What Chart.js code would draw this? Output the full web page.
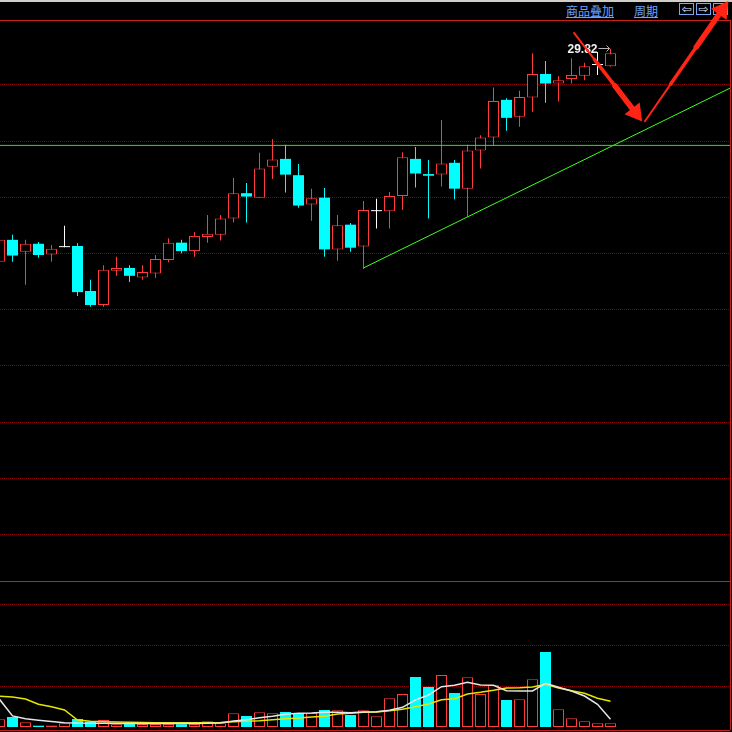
<!DOCTYPE html>
<html>
<head>
<meta charset="utf-8">
<script src="https://cdn.jsdelivr.net/npm/chart.js@4.4.1/dist/chart.umd.min.js"></script>
<style>
  html, body { margin: 0; padding: 0; background: #000; }
  #wrap { position: relative; width: 732px; height: 732px; overflow: hidden; background: #000; }
  #kline { position: absolute; left: 0; top: 0; z-index: 2; }
  #topline { position: absolute; left: 0; top: 0; width: 732px; height: 2px; background: #d0cec8; }
  .menu { position: absolute; top: 4px; font: 12px/13px "Noto Sans CJK SC", sans-serif; color: #6ea4ff; text-decoration: underline; }
  .btn { position: absolute; top: 3px; width: 13px; height: 10px; border: 1px solid #7aa8f0; color: #e8f0ff; font: 12px/10px "DejaVu Sans", sans-serif; text-align: center; overflow: hidden; }
</style>
</head>
<body>
<div id="wrap">
  <div id="topline"></div>
  <div class="menu" style="left:566px">商品叠加</div>
  <div class="menu" style="left:634px">周期</div>
  <div class="btn" style="left:679px">⇦</div>
  <div class="btn" style="left:696px">⇨</div>
  <div class="btn" style="left:713px">▫</div>
  <canvas id="kline" width="732" height="732"></canvas>
</div>
<script>
// 1) Daily candles (one entry per trading day)
const opens  = [26.03, 26.42, 26.21, 26.35, 26.16, 26.29, 26.31, 25.51, 25.26, 25.87, 25.92, 25.75, 25.82, 26.06, 26.37, 26.22,
                26.47, 26.51, 26.80, 27.25, 27.17, 27.72, 27.86, 27.57, 27.05, 27.17, 26.25, 26.69, 26.30, 26.93, 26.93, 27.20,
                27.86, 27.59, 27.58, 27.79, 27.33, 28.01, 28.24, 28.91, 28.61, 28.95, 29.37, 29.20, 29.28, 29.34, 29.53, 29.51];
const highs  = [26.45, 26.51, 26.42, 26.38, 26.33, 26.67, 26.36, 25.71, 25.97, 26.12, 25.97, 25.97, 26.15, 26.45, 26.42, 26.56,
                26.86, 26.86, 27.52, 27.43, 27.97, 28.21, 28.11, 27.77, 27.33, 27.34, 26.86, 26.72, 27.11, 27.15, 27.27, 27.98,
                28.07, 27.84, 28.55, 27.84, 28.11, 28.28, 29.13, 28.94, 29.07, 29.74, 29.60, 29.33, 29.65, 29.57, 29.76, 29.82];
const lows   = [25.99, 26.03, 25.62, 26.10, 26.03, 26.29, 25.42, 25.23, 25.23, 25.78, 25.67, 25.71, 25.74, 26.02, 26.18, 26.12,
                26.37, 26.41, 26.73, 26.73, 27.17, 27.50, 27.26, 26.99, 26.76, 26.12, 26.05, 26.21, 25.90, 26.62, 26.62, 26.95,
                27.35, 26.80, 27.37, 27.14, 26.83, 27.69, 28.10, 28.36, 28.43, 28.70, 28.86, 28.88, 29.20, 29.26, 29.35, 29.50];
const closes = [26.42, 26.14, 26.35, 26.15, 26.26, 26.29, 25.49, 25.26, 25.89, 25.92, 25.78, 25.85, 26.08, 26.37, 26.22, 26.49,
                26.53, 26.80, 27.25, 27.19, 27.69, 27.85, 27.58, 27.03, 27.16, 26.25, 26.68, 26.28, 26.95, 26.93, 27.20, 27.89,
                27.60, 27.56, 27.78, 27.33, 28.01, 28.24, 28.89, 28.59, 28.96, 29.37, 29.20, 29.26, 29.35, 29.51, 29.53, 29.74];

// 2) Volume and its moving averages (read off the lower panel)
const volumes = [7700, 10000, 4700, 1300, 1500, 3700, 8000, 5300, 7000, 2800, 3300, 2900, 2900, 3100, 2800, 3100,
                 5800, 3800, 13800, 11000, 14700, 13700, 15000, 13900, 13900, 17000, 16700, 12000, 16700, 10700, 28700, 33000,
                 50000, 40000, 52000, 34000, 49700, 33000, 41700, 27000, 27700, 47700, 75000, 17700, 8700, 5700, 3700, 3700];
const volMa5  = [27700, 11100, 8200, 6800, 5500, 4300, 3900, 3800, 3700, 3600, 3500, 3500, 3500, 3500, 3500, 3600,
                 3700, 4100, 6100, 7300, 9200, 10800, 12800, 13700, 14000, 14700, 14700, 14300, 15000, 15300, 16700, 19700,
                 27000, 32000, 40300, 41700, 44700, 42000, 41700, 36300, 36000, 36000, 43700, 39700, 36000, 31000, 22700, 7700];
const volMa10 = [30700, 30000, 28000, 22700, 20200, 17000, 7000, 5800, 5300, 5000, 4700, 4400, 4200, 4200, 4200, 4200,
                 4200, 4500, 5200, 5700, 6200, 7300, 8300, 9000, 10000, 10700, 13000, 13700, 14700, 15000, 16300, 17700,
                 20300, 23000, 27300, 28300, 33000, 34700, 36700, 39000, 39300, 40000, 42700, 39000, 36300, 33700, 28700, 25700];

// 3) Drawn lines: trend line, horizontal level and the two red arrows (candle index, price)
const trendPoints = [{x: 28, y: 25.92}, {x: 57, y: 29.21}];
const levelPrice  = 28.10;
const arrowDown   = [{x: 44.19, y: 30.10}, {x: 45.76, y: 29.63}, {x: 47.34, y: 29.16}, {x: 48.92, y: 28.68}];
const arrowUp     = [{x: 49.65, y: 28.53}, {x: 51.63, y: 29.19}, {x: 53.60, y: 29.85}, {x: 55.58, y: 30.51}];

// 4) Grid levels
const priceGrid = [29.177, 28.177, 27.177, 26.177, 25.177, 24.177, 23.177, 22.177, 21.177];
const volGrid   = [40500, 81500, 122500];
const volSplit  = 145500;

// axis ranges (price panel and volume panel share one canvas)
const X_MIN = 0.0385, X_MAX = 56.1923;
const PRICE_MIN = 17.7008, PRICE_MAX = 30.3305;
const VOL_MIN = -3000, VOL_MAX = 707000;

const UP = '#ff3c3c', DOWN = '#00ffff', FLAT = '#ffffff';
const SOLID = '#c81e1e';

const dirs = opens.map((o, i) => Math.sign(closes[i] - o));
const candleColor = d => d > 0 ? UP : d < 0 ? DOWN : FLAT;

// dotted grid colour: 1px on / 1px off pattern
const dotCanvas = document.createElement('canvas');
dotCanvas.width = 2; dotCanvas.height = 2;
const dctx = dotCanvas.getContext('2d');
dctx.fillStyle = '#8c0000';
dctx.fillRect(0, 0, 1, 2);
const DOT = dctx.createPattern(dotCanvas, 'repeat');

// label at the highest price: "29.82→"
const maxLabel = {
  id: 'maxLabel',
  beforeDatasetsDraw(chart) {
    const {ctx, scales: {x, y}} = chart;
    const top = Math.max(...highs);
    const i = highs.indexOf(top);
    const px = x.getPixelForValue(i);
    const py = Math.round(y.getPixelForValue(top));
    ctx.save();
    ctx.font = 'bold 12px "Liberation Sans", Arial, sans-serif';
    ctx.textAlign = 'right';
    ctx.textBaseline = 'middle';
    ctx.fillStyle = '#f2f2f2';
    ctx.fillText(top.toFixed(2), px - 13, py + 0.5);
    ctx.strokeStyle = '#b4b4b4';
    ctx.lineWidth = 1;
    ctx.beginPath();
    ctx.moveTo(px - 12, py - 0.5);
    ctx.lineTo(px - 1, py - 0.5);
    ctx.moveTo(px - 4, py - 3.5);
    ctx.lineTo(px - 1, py - 0.5);
    ctx.lineTo(px - 4, py + 2.5);
    ctx.stroke();
    ctx.restore();
  }
};

const arrowWidths = [2, 3.5, 5.5];
function arrowSet(points, rotation) {
  return {
    type: 'line', order: 0, yAxisID: 'y', clip: false,
    data: points,
    borderColor: '#ff2414',
    borderCapStyle: 'round',
    segment: { borderWidth: c => arrowWidths[c.p0DataIndex] },
    pointStyle: 'triangle',
    pointRotation: rotation,
    pointRadius: c => c.dataIndex === points.length - 1 ? 11 : 0,
    pointBackgroundColor: '#ff2414',
    pointBorderWidth: 0
  };
}

// 5) Chart
new Chart(document.getElementById('kline'), {
  type: 'bar',
  data: {
    datasets: [
      // wicks
      {
        order: 4, yAxisID: 'y', grouped: false,
        data: lows.map((l, i) => ({x: i, y: [l, highs[i]]})),
        backgroundColor: dirs.map(candleColor),
        borderWidth: 0, maxBarThickness: 1, barPercentage: 1, categoryPercentage: 1, inflateAmount: 0
      },
      // bodies
      {
        order: 3, yAxisID: 'y', grouped: false,
        data: opens.map((o, i) => ({x: i, y: [o, closes[i]]})),
        backgroundColor: dirs.map(d => d > 0 ? '#000000' : candleColor(d)),
        borderColor: dirs.map(candleColor),
        borderWidth: dirs.map(d => d > 0 ? 1 : 0),
        borderSkipped: false, minBarLength: 1,
        maxBarThickness: 11, barPercentage: 1, categoryPercentage: 1, inflateAmount: 0
      },
      // volume
      {
        order: 3, yAxisID: 'yVol', grouped: false,
        data: volumes.map((v, i) => ({x: i, y: v})),
        backgroundColor: dirs.map(d => d < 0 ? DOWN : '#000000'),
        borderColor: dirs.map(d => d < 0 ? DOWN : UP),
        borderWidth: dirs.map(d => d < 0 ? 0 : 1),
        borderSkipped: false,
        maxBarThickness: 11, barPercentage: 1, categoryPercentage: 1, inflateAmount: 0
      },
      {
        type: 'line', order: 2, yAxisID: 'yVol',
        data: volMa5.map((v, i) => ({x: i, y: v})),
        borderColor: '#e6e6e6', borderWidth: 1.5, pointRadius: 0
      },
      {
        type: 'line', order: 2, yAxisID: 'yVol',
        data: volMa10.map((v, i) => ({x: i, y: v})),
        borderColor: '#e6e600', borderWidth: 1.5, pointRadius: 0
      },
      {
        type: 'line', order: 1, yAxisID: 'y',
        data: [{x: X_MIN - 1, y: levelPrice}, {x: X_MAX + 1, y: levelPrice}],
        borderColor: '#30e030', borderWidth: 1, pointRadius: 0
      },
      {
        type: 'line', order: 1, yAxisID: 'y',
        data: trendPoints,
        borderColor: '#3cff1e', borderWidth: 1, pointRadius: 0
      },
      arrowSet(arrowDown, 142.5),
      arrowSet(arrowUp, 35.4)
    ]
  },
  options: {
    responsive: false,
    animation: false,
    events: [],
    layout: { autoPadding: false, padding: { top: 20, right: 2, bottom: 2, left: 0 } },
    plugins: { legend: { display: false }, tooltip: { enabled: false } },
    scales: {
      x: {
        type: 'linear', min: X_MIN, max: X_MAX, offset: false,
        afterBuildTicks: s => { s.ticks = [{value: X_MAX}]; },
        ticks: { display: false },
        border: { display: false },
        grid: { offset: false, drawTicks: false, color: SOLID, lineWidth: 1 }
      },
      y: {
        type: 'linear', position: 'left', min: PRICE_MIN, max: PRICE_MAX, beginAtZero: false,
        afterBuildTicks: s => { s.ticks = [...priceGrid, PRICE_MAX].map(v => ({value: v})); },
        ticks: { display: false },
        border: { display: false },
        grid: {
          drawTicks: false, lineWidth: 1,
          color: c => c.tick && c.tick.value === PRICE_MAX ? SOLID : DOT
        }
      },
      yVol: {
        type: 'linear', position: 'left', min: VOL_MIN, max: VOL_MAX,
        afterBuildTicks: s => { s.ticks = [VOL_MIN, ...volGrid, volSplit].map(v => ({value: v})); },
        ticks: { display: false },
        border: { display: false },
        grid: {
          drawTicks: false, lineWidth: 1,
          color: c => c.tick && (c.tick.value === VOL_MIN || c.tick.value === volSplit) ? SOLID : DOT
        }
      }
    }
  },
  plugins: [maxLabel]
});
</script>
</body>
</html>
